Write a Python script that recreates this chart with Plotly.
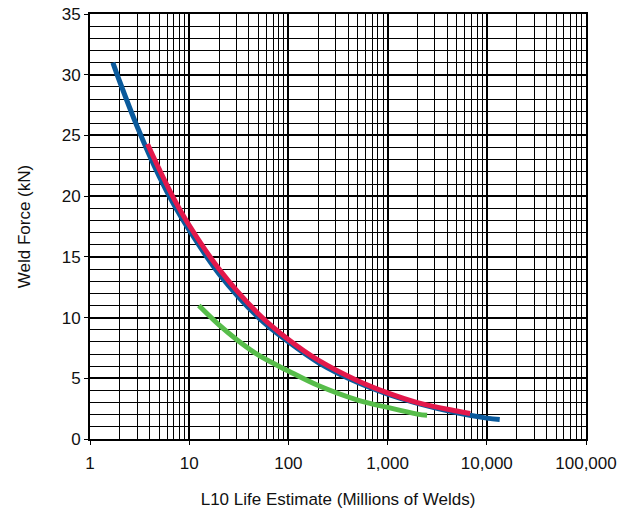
import plotly.graph_objects as go

# L10 life (millions of welds) vs weld force (kN)
blue_x = [1.7, 2, 3, 5, 7, 10, 20, 50, 100, 200, 500, 1000, 2000, 5000, 10000, 13500]
blue_y = [31.0, 29.4, 25.7, 21.6, 19.3, 17.2, 13.6, 10.0, 8.0, 6.3, 4.65, 3.7, 2.94, 2.16, 1.72, 1.6]

red_x = [3.8, 5, 7, 10, 20, 50, 100, 200, 500, 1000, 2000, 5000, 6800]
red_y = [24.3, 22.2, 19.8, 17.6, 14.0, 10.3, 8.2, 6.5, 4.8, 3.8, 3.0, 2.3, 2.1]

green_x = [12.5, 20, 30, 50, 100, 200, 500, 1000, 2000, 2500]
green_y = [11.0, 9.4, 8.2, 6.9, 5.6, 4.4, 3.2, 2.6, 2.05, 1.95]

x_tickvals = [1, 10, 100, 1000, 10000, 100000]
x_ticktext = ["1", "10", "100", "1,000", "10,000", "100,000"]
y_tickvals = [0, 5, 10, 15, 20, 25, 30, 35]

fig = go.Figure()
fig.add_trace(go.Scatter(x=blue_x, y=blue_y, mode="lines",
                         line=dict(color="#0a5a9c", width=5, shape="spline"),
                         showlegend=False))
fig.add_trace(go.Scatter(x=red_x, y=red_y, mode="lines",
                         line=dict(color="#e3184b", width=5, shape="spline"),
                         showlegend=False))
fig.add_trace(go.Scatter(x=green_x, y=green_y, mode="lines",
                         line=dict(color="#57bd4a", width=5, shape="spline"),
                         showlegend=False))

font = dict(family="Liberation Sans, Arial, sans-serif", size=17, color="#111")

fig.update_layout(
    width=623, height=510,
    margin=dict(l=90, r=37, t=14, b=71),
    paper_bgcolor="white", plot_bgcolor="white",
    font=font,
    xaxis=dict(
        type="log", range=[0, 5], automargin=False,
        tickmode="array", tickvals=x_tickvals, ticktext=x_ticktext,
        ticks="outside", ticklen=4, tickcolor="black", tickwidth=1,
        ticklabelstandoff=4, ticklabeloverflow="allow",
        showgrid=True, gridcolor="black", gridwidth=2,
        minor=dict(dtick="D1", showgrid=True, gridcolor="black", gridwidth=1, ticks=""),
        showline=True, linecolor="black", linewidth=2, mirror=True,
        zeroline=False,
        title=dict(text="L10 Life Estimate (Millions of Welds)", standoff=21,
                   font=dict(size=17)),
        tickfont=dict(size=17),
    ),
    yaxis=dict(
        range=[0, 35], automargin=False,
        tickmode="array", tickvals=y_tickvals,
        ticks="outside", ticklen=4, tickcolor="black", tickwidth=1,
        ticklabelstandoff=0, ticklabeloverflow="allow",
        showgrid=True, gridcolor="black", gridwidth=2,
        minor=dict(dtick=1, showgrid=True, gridcolor="black", gridwidth=1, ticks=""),
        showline=True, linecolor="black", linewidth=2, mirror=True,
        zeroline=False,
        title=dict(text="Weld Force (kN)", standoff=27, font=dict(size=17)),
        tickfont=dict(size=17),
    ),
)

fig.write_html("out.html",
               config={"displayModeBar": False},
               post_script="document.body.style.margin='0';document.body.style.overflow='hidden';")
